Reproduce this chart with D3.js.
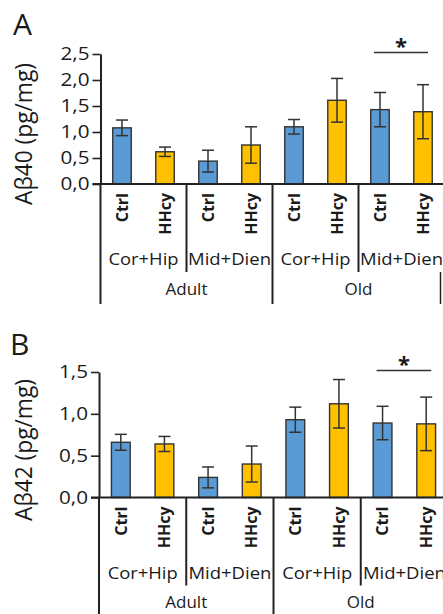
<!DOCTYPE html>
<html>
<head>
<meta charset="utf-8">
<script src="https://cdn.jsdelivr.net/npm/d3@7"></script>
<style>
  html, body { margin: 0; padding: 0; background: #fff; }
  svg { display: block; }
  text { font-family: "Open Sans", "Noto Sans", sans-serif; fill: #1a1a1a; }
</style>
</head>
<body>
<svg id="chart" width="443" height="614"></svg>
<script>
// ---------------- data ----------------
const groups = ["Ctrl", "HHcy", "Ctrl", "HHcy", "Ctrl", "HHcy", "Ctrl", "HHcy"];
const regions = ["Cor+Hip", "Mid+Dien", "Cor+Hip", "Mid+Dien"];
const ages = ["Adult", "Old"];

const abeta40 = [1.08, 0.62, 0.44, 0.75, 1.10, 1.61, 1.43, 1.39];
const abeta40Err = [0.15, 0.09, 0.21, 0.35, 0.14, 0.42, 0.33, 0.52];
const abeta42 = [0.66, 0.64, 0.24, 0.40, 0.93, 1.12, 0.89, 0.88];
const abeta42Err = [0.095, 0.09, 0.125, 0.215, 0.15, 0.29, 0.20, 0.32];

const ticks40 = [0, 0.5, 1.0, 1.5, 2.0, 2.5];
const tickLabels40 = ["0,0", "0,5", "1,0", "1,5", "2,0", "2,5"];
const ticks42 = [0, 0.5, 1.0, 1.5];
const tickLabels42 = ["0,0", "0,5", "1,0", "1,5"];

const sigPair = [6, 7];      // bars joined by the significance line
const sigLabel = "*";

const colors = ["#5b9bd5", "#ffc000"];
const ink = "#222";

// ---------------- drawing ----------------
const svg = d3.select("#chart");

function panel(cfg) {
  const g = svg.append("g");
  const idx = d3.range(groups.length);
  const x = d3.scaleBand().domain(idx).range(cfg.xRange).padding(0);
  const step = x.bandwidth();
  const barW = step * 0.43;
  const y = d3.scaleLinear().domain([0, d3.max(cfg.ticks)]).range([cfg.y0, cfg.yTop]);
  const axisX = cfg.xRange[0];

  // panel letter
  g.append("text").attr("x", cfg.letterX).attr("y", cfg.letterY)
    .attr("font-size", 30).text(cfg.letter);

  // y axis title
  g.append("text")
    .attr("transform", `translate(${cfg.titleX},${cfg.titleY}) rotate(-90)`)
    .attr("text-anchor", "middle")
    .attr("font-size", 23)
    .attr("textLength", 142).attr("lengthAdjust", "spacingAndGlyphs")
    .text(cfg.title);

  // bars
  g.selectAll("rect.bar").data(cfg.values).join("rect")
    .attr("class", "bar")
    .attr("x", (d, i) => x(i) + (step - barW) / 2)
    .attr("width", barW)
    .attr("y", d => y(d))
    .attr("height", d => y(0) - y(d))
    .attr("fill", (d, i) => colors[i % 2])
    .attr("stroke", "#333").attr("stroke-width", 1.4);

  // error bars
  const capW = 12;
  const eb = g.selectAll("g.err").data(cfg.values).join("g").attr("class", "err")
    .attr("stroke", "#333").attr("stroke-width", 1.5);
  eb.append("line")
    .attr("x1", (d, i) => x(i) + step / 2).attr("x2", (d, i) => x(i) + step / 2)
    .attr("y1", (d, i) => y(d + cfg.errs[i])).attr("y2", (d, i) => y(d - cfg.errs[i]));
  eb.append("line")
    .attr("x1", (d, i) => x(i) + step / 2 - capW / 2).attr("x2", (d, i) => x(i) + step / 2 + capW / 2)
    .attr("y1", (d, i) => y(d + cfg.errs[i])).attr("y2", (d, i) => y(d + cfg.errs[i]));
  eb.append("line")
    .attr("x1", (d, i) => x(i) + step / 2 - capW / 2).attr("x2", (d, i) => x(i) + step / 2 + capW / 2)
    .attr("y1", (d, i) => y(d - cfg.errs[i])).attr("y2", (d, i) => y(d - cfg.errs[i]));

  // y axis
  const ax = g.append("g").attr("transform", `translate(${axisX},0)`)
    .call(d3.axisLeft(y).tickValues(cfg.ticks)
      .tickFormat((d, i) => cfg.tickLabels[i]).tickSize(8).tickSizeOuter(0).tickPadding(3));
  ax.select(".domain").attr("stroke", ink).attr("stroke-width", 2);
  ax.selectAll(".tick line").attr("stroke", ink).attr("stroke-width", 1.6);
  ax.selectAll(".tick text")
    .attr("font-family", "Open Sans, sans-serif").attr("font-size", 18)
    .attr("fill", "#1a1a1a")
    .attr("textLength", 29).attr("lengthAdjust", "spacingAndGlyphs");

  // x axis line
  g.append("line").attr("x1", axisX - 8).attr("x2", 443)
    .attr("y1", y(0)).attr("y2", y(0)).attr("stroke", ink).attr("stroke-width", 2);

  // category table
  const y0 = y(0);
  // main vertical lines (axis, Adult/Old split)
  [0, 4].forEach(k => {
    g.append("line").attr("x1", x(k)).attr("x2", x(k))
      .attr("y1", y0).attr("y2", y0 + cfg.tableH)
      .attr("stroke", ink).attr("stroke-width", 2);
  });
  // region separators
  [2, 6].forEach(k => {
    g.append("line").attr("x1", x(k)).attr("x2", x(k))
      .attr("y1", y0).attr("y2", y0 + 88)
      .attr("stroke", ink).attr("stroke-width", 2);
  });
  if (cfg.rightEdge) {
    g.append("line").attr("x1", cfg.xRange[1] - 4).attr("x2", cfg.xRange[1] - 4)
      .attr("y1", y0 + 88).attr("y2", y0 + cfg.tableH)
      .attr("stroke", ink).attr("stroke-width", 1.5);
  }

  // Ctrl / HHcy labels
  g.selectAll("text.grp").data(groups).join("text").attr("class", "grp")
    .attr("transform", (d, i) => `translate(${x(i) + step / 2},${y0 + 9}) rotate(-90)`)
    .attr("text-anchor", "end").attr("dy", "0.36em")
    .attr("font-size", 16).attr("font-weight", "bold")
    .text(d => d);

  // region labels
  g.selectAll("text.reg").data(regions).join("text").attr("class", "reg")
    .attr("x", (d, i) => x(i * 2) + step)
    .attr("y", y0 + 81)
    .attr("text-anchor", "middle").attr("font-size", 16)
    .attr("textLength", d => d === "Cor+Hip" ? 70 : 83).attr("lengthAdjust", "spacingAndGlyphs")
    .text(d => d);

  // age labels
  g.selectAll("text.age").data(ages).join("text").attr("class", "age")
    .attr("x", (d, i) => x(i * 4) + step * 2)
    .attr("y", y0 + cfg.ageDy)
    .attr("text-anchor", "middle").attr("font-size", 17)
    .text(d => d);

  // significance
  const sx1 = x(sigPair[0]) + step / 2 - 6, sx2 = x(sigPair[1]) + step / 2 + 5;
  const sy = y(d3.max(cfg.ticks)) - 1.5;
  g.append("line").attr("x1", sx1).attr("x2", sx2).attr("y1", sy).attr("y2", sy)
    .attr("stroke", "#333").attr("stroke-width", 1.5);
  g.append("text").attr("x", (sx1 + sx2) / 2).attr("y", sy + 1)
    .attr("text-anchor", "middle").attr("font-size", 22).attr("font-weight", "bold")
    .text(sigLabel);
}

panel({
  letter: "A", letterX: 13, letterY: 35,
  title: "A\u03b240 (pg/mg)", titleX: 31.5, titleY: 134,
  values: abeta40, errs: abeta40Err,
  ticks: ticks40, tickLabels: tickLabels40,
  xRange: [100.5, 444.5], y0: 184, yTop: 54,
  tableH: 120, ageDy: 111, rightEdge: true
});

panel({
  letter: "B", letterX: 10, letterY: 355,
  title: "A\u03b242 (pg/mg)", titleX: 31.5, titleY: 450,
  values: abeta42, errs: abeta42Err,
  ticks: ticks42, tickLabels: tickLabels42,
  xRange: [99, 448], y0: 497.5, yTop: 372,
  tableH: 130, ageDy: 110, rightEdge: false
});
</script>
</body>
</html>
